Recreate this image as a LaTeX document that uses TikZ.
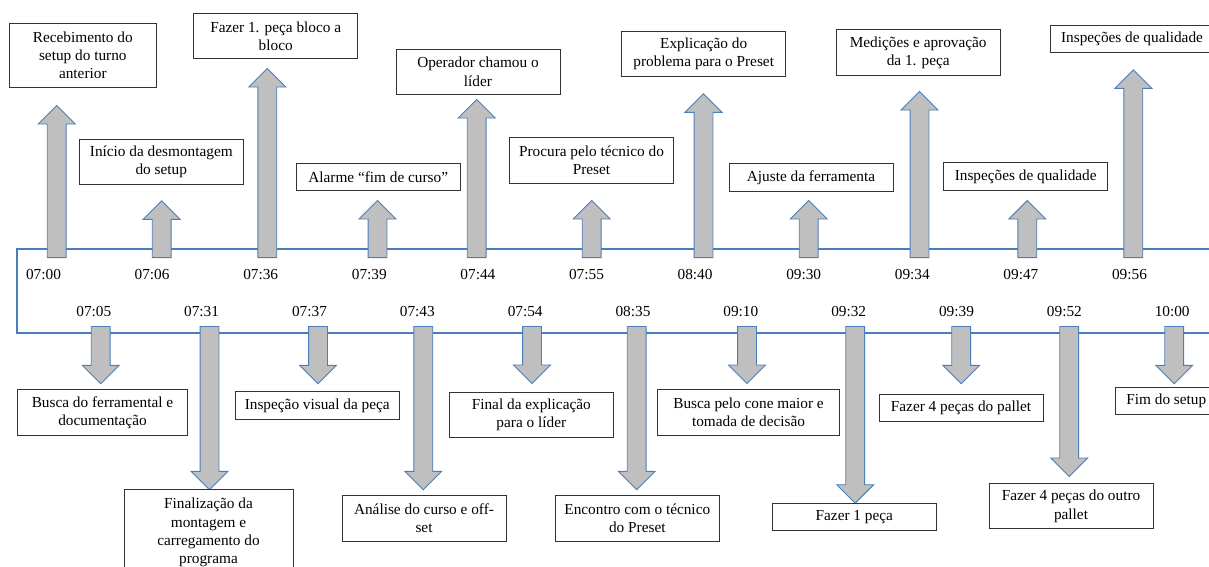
\documentclass[tikz,border=0pt]{standalone}
\usepackage{fontspec}
\setmainfont{Liberation Serif}
\usetikzlibrary{shapes.arrows}
\definecolor{lineblue}{RGB}{74,126,187}
\definecolor{arrgray}{RGB}{191,191,191}

\begin{document}
\begin{tikzpicture}[x=1pt,y=-1pt]
        \tikzset{box/.style= {draw=black!80, fill=white, line width=1pt, align=center, inner xsep=1pt, inner ysep=0pt, minimum width=164pt, minimum height=27.5pt, font=\fontsize{15.3}{18.3}\selectfont},
        lines2/.style={minimum height=45.5pt},
        lines3/.style={minimum height=64pt},
        lines4/.style={minimum height=86pt},
        time/.style={font=\fontsize{15.3}{18.3}\selectfont, inner sep=0pt},
        arr/.style={draw=lineblue, fill=arrgray, line width=0.9pt, single arrow, single arrow head extend=9pt, inner xsep=0pt, inner ysep=9pt, minimum width=36pt, anchor=tail},
        uparr/.style={arr, rotate=90},
        downarr/.style={arr, rotate=-90},
        }
        \clip (0,0) rectangle (1209,567);

%%% timeline
        \coordinate (top_r) at (1209,249);
        \coordinate (top_l) at (17,249);
        \coordinate (bot_l) at (17,333);
        \coordinate (bot_r) at (1209,333);
        \draw[lineblue, line width=1.2pt] (top_r) -- (top_l) -- (bot_l) -- (bot_r);

%%% arrows up
        \node [uparr, minimum height=152pt] (u0700) at (56.7,258) {};
        \node [uparr, minimum height=56.7pt] (u0706) at (161.7,258) {};
        \node [uparr, minimum height=189pt] (u0736) at (267.3,258) {};
        \node [uparr, minimum height=57pt] (u0739) at (377.5,258) {};
        \node [uparr, minimum height=158pt] (u0744) at (476.7,258) {};
        \node [uparr, minimum height=57pt] (u0755) at (591.7,258) {};
        \node [uparr, minimum height=163.7pt] (u0840) at (703.5,258) {};
        \node [uparr, minimum height=57pt] (u0930) at (808.7,258) {};
        \node [uparr, minimum height=166pt] (u0934) at (919.5,258) {};
        \node [uparr, minimum height=57pt] (u0947) at (1027.3,258) {};
        \node [uparr, minimum height=187.7pt] (u0956) at (1133.3,258) {};

%%% arrows down
        \node [downarr, minimum height=57.3pt] (d0705) at (100.7,326) {};
        \node [downarr, minimum height=163.3pt] (d0731) at (209.5,326) {};
        \node [downarr, minimum height=57.3pt] (d0737) at (318,326) {};
        \node [downarr, minimum height=163.3pt] (d0743) at (423.3,326) {};
        \node [downarr, minimum height=57pt] (d0754) at (532,326) {};
        \node [downarr, minimum height=163.3pt] (d0835) at (636.7,326) {};
        \node [downarr, minimum height=57pt] (d0910) at (747,326) {};
        \node [downarr, minimum height=176.7pt] (d0932) at (855.2,326) {};
        \node [downarr, minimum height=57.3pt] (d0939) at (961.2,326) {};
        \node [downarr, minimum height=150pt] (d0952) at (1069.2,326) {};
        \node [downarr, minimum height=57.3pt] (d1000) at (1174.2,326) {};

%%% times
        \node [time] (t0700) at (43.5,275) {07:00};
        \node [time] (t0706) at (152.1,275) {07:06};
        \node [time] (t0736) at (260.7,275) {07:36};
        \node [time] (t0739) at (369.3,275) {07:39};
        \node [time] (t0744) at (477.9,275) {07:44};
        \node [time] (t0755) at (586.5,275) {07:55};
        \node [time] (t0840) at (695.1,275) {08:40};
        \node [time] (t0930) at (803.7,275) {09:30};
        \node [time] (t0934) at (912.3,275) {09:34};
        \node [time] (t0947) at (1020.9,275) {09:47};
        \node [time] (t0956) at (1129.5,275) {09:56};

        \node [time] (t0705) at (93.8,311.7) {07:05};
        \node [time] (t0731) at (201.6,311.7) {07:31};
        \node [time] (t0737) at (309.5,311.7) {07:37};
        \node [time] (t0743) at (417.3,311.7) {07:43};
        \node [time] (t0754) at (525.2,311.7) {07:54};
        \node [time] (t0835) at (633,311.7) {08:35};
        \node [time] (t0910) at (740.8,311.7) {09:10};
        \node [time] (t0932) at (848.7,311.7) {09:32};
        \node [time] (t0939) at (956.5,311.7) {09:39};
        \node [time] (t0952) at (1064.4,311.7) {09:52};
        \node [time] (t1000) at (1172.2,311.7) {10:00};

%%% boxes above
        \node [box, lines3, minimum width=147pt] (rec) at (82.8,55.3) {Recebimento do\\setup do turno\\anterior};
        \node [box, lines2] (desm) at (161.3,161.8) {Início da desmontagem\\do setup};
        \node [box, lines2] (bloco) at (275.7,36.2) {Fazer 1. peça bloco a\\bloco};
        \node [box] (alarme) at (378.2,177) {Alarme “fim de curso”};
        \node [box, lines2] (lider) at (478,71.8) {Operador chamou o\\líder};
        \node [box, lines2] (procura) at (591.5,160.3) {Procura pelo técnico do\\Preset};
        \node [box, lines2] (explic) at (703.7,54) {Explicação do\\problema para o Preset};
        \node [box] (ajuste) at (811,177.7) {Ajuste da ferramenta};
        \node [box, lines2] (medicoes) at (918.2,52.5) {Medições e aprovação\\da 1. peça};
        \node [box] (insp_a) at (1025.7,176.5) {Inspeções de qualidade};
        \node [box] (insp_b) at (1132,39) {Inspeções de qualidade};

%%% boxes below
        \node [box, lines2, minimum width=169.6pt] (busca) at (102.5,412.5) {Busca do ferramental e\\documentação};
        \node [box, lines4, minimum width=169pt] (finaliz) at (208.5,532.5) {Finalização da\\montagem e\\carregamento do\\programa};
        \node [box] (visual) at (317.2,405.7) {Inspeção visual da peça};
        \node [box, lines2] (analise) at (424,518.5) {Análise do curso e off-\\set};
        \node [box, lines2] (final) at (531.3,414.8) {Final da explicação\\para o líder};
        \node [box, lines2] (encontro) at (637.3,518.5) {Encontro com o técnico\\do Preset};
        \node [box, lines2, minimum width=181.6pt] (cone) at (748.5,412.5) {Busca pelo cone maior e\\tomada de decisão};
        \node [box] (peca) at (854.3,517) {Fazer 1 peça};
        \node [box] (pallet) at (961,407.8) {Fazer 4 peças do pallet};
        \node [box, lines2] (outro) at (1071,506.2) {Fazer 4 peças do outro\\pallet};
        \node [box, minimum width=102pt] (fim) at (1166.3,401) {Fim do setup};
    \end{tikzpicture}
\end{document}
